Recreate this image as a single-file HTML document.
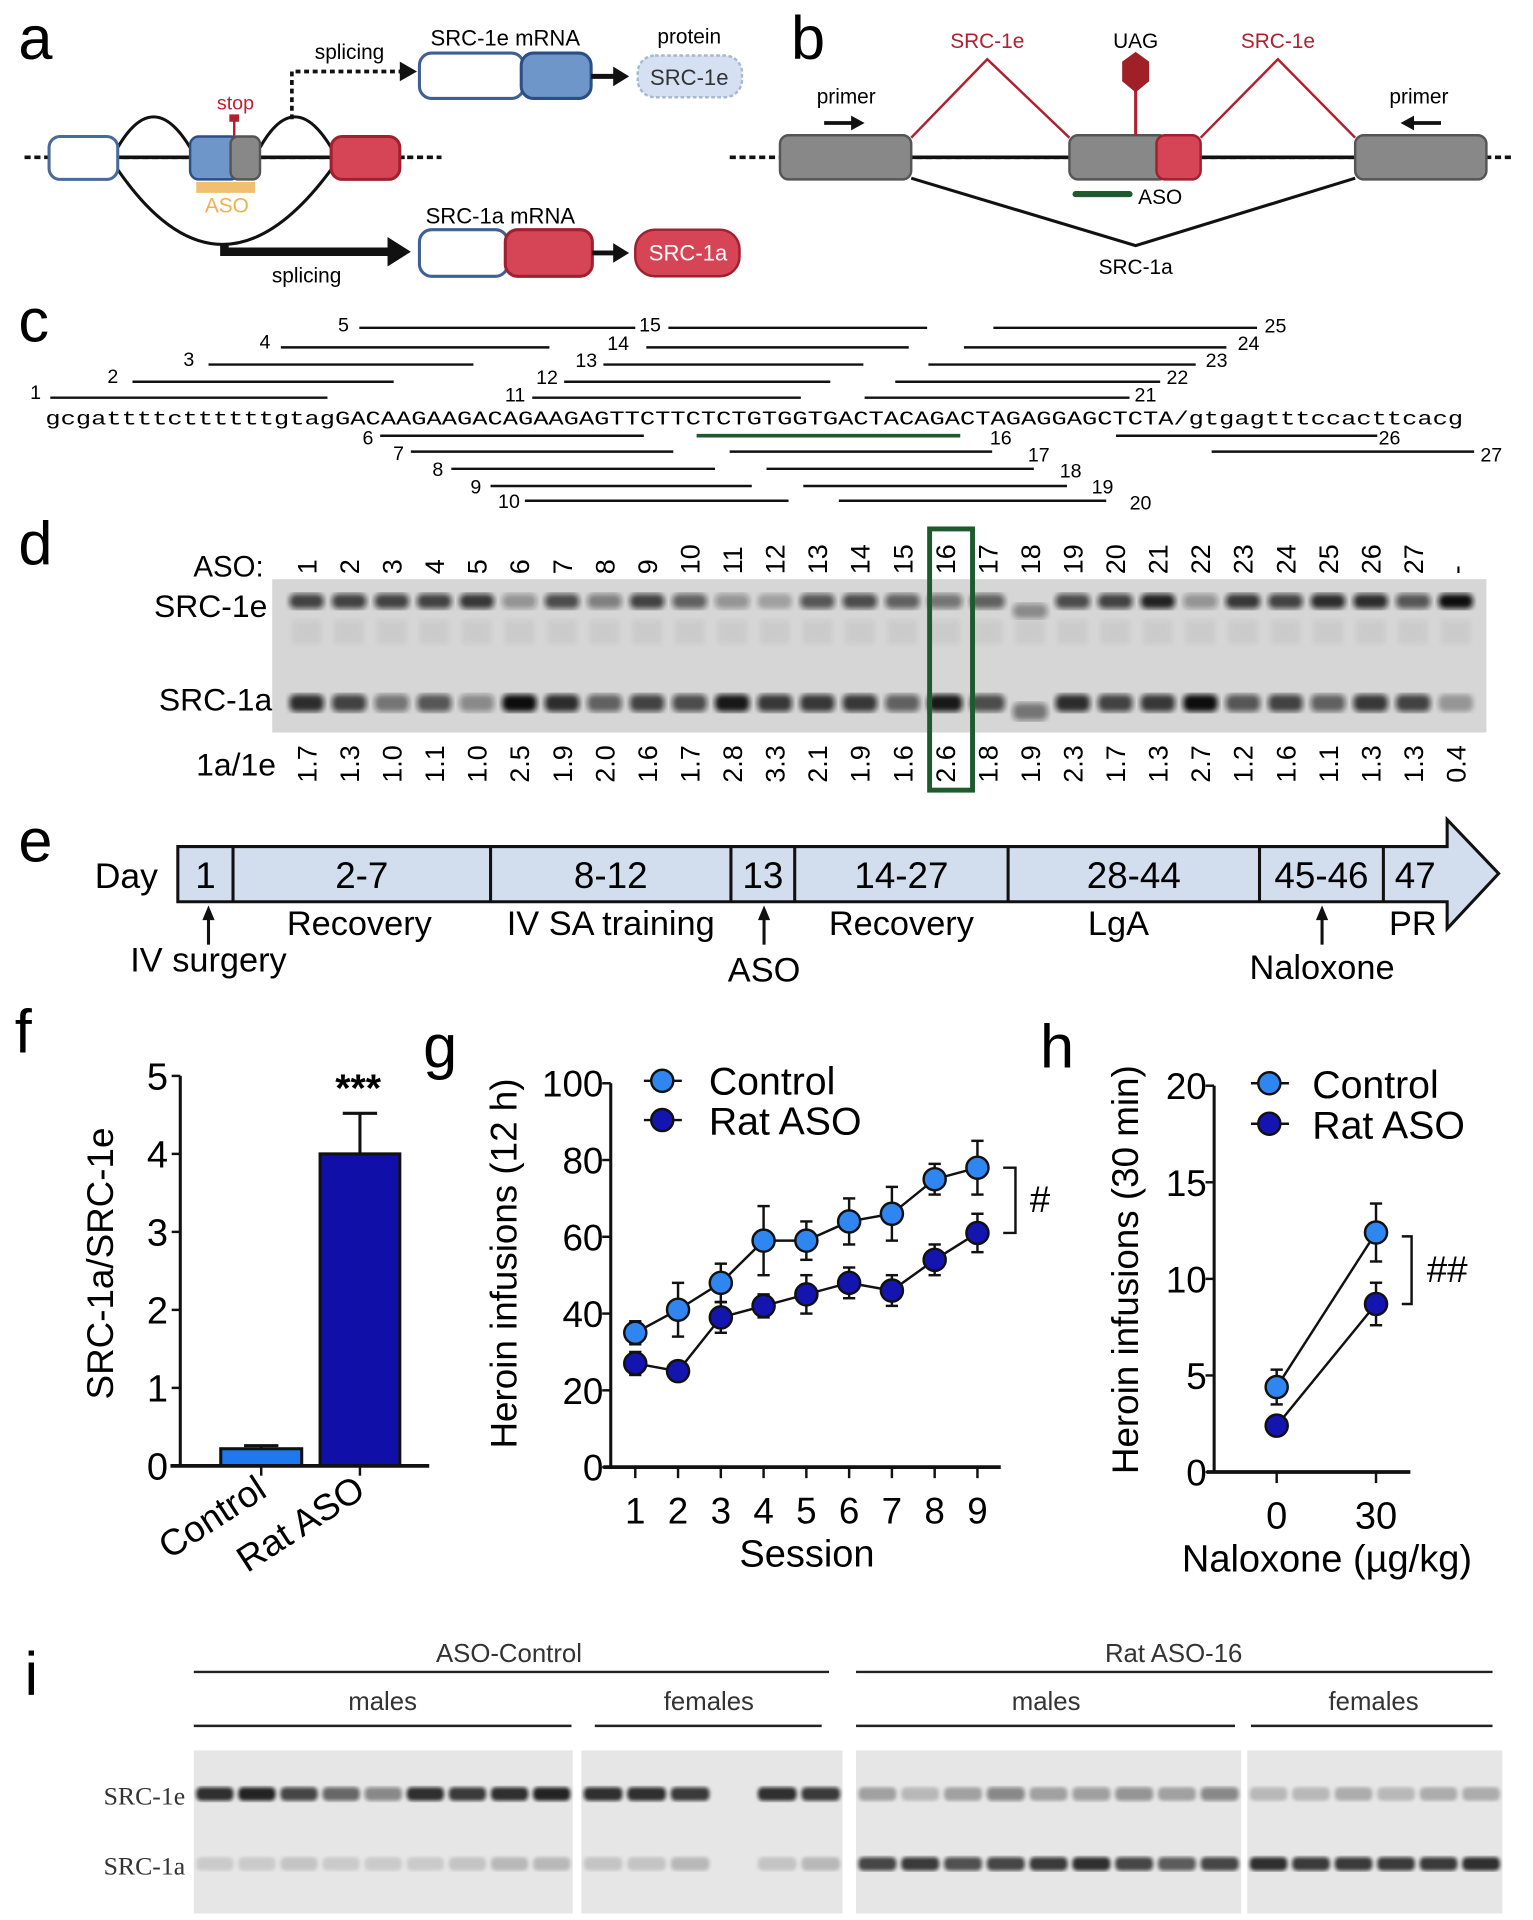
<!DOCTYPE html>
<html><head><meta charset="utf-8">
<style>
html,body{margin:0;padding:0;background:#fff;}
svg{display:block;font-family:"Liberation Sans",sans-serif;}
</style></head>
<body>
<svg id="fig" width="1533" height="1920" viewBox="0 0 1250 1565" xmlns="http://www.w3.org/2000/svg">
<defs>
<filter id="blur2"><feGaussianBlur stdDeviation="2.2"/></filter>
<filter id="blur1"><feGaussianBlur stdDeviation="1.5"/></filter>
</defs>
<rect width="1250" height="1565" fill="#fff"/>

<!-- Panel a -->
<g>
<text x="15" y="48" font-size="50">a</text>
<line x1="20" y1="128" x2="360" y2="128" stroke="#111" stroke-width="3" stroke-dasharray="5 3"/>
<line x1="40" y1="128" x2="330" y2="128" stroke="#111" stroke-width="3"/>
<path d="M96 120 Q125 70 155 120" fill="none" stroke="#111" stroke-width="2.5"/>
<path d="M212 120 Q240 70 270 120" fill="none" stroke="#111" stroke-width="2.5"/>
<path d="M96 138 Q180 260 270 138" fill="none" stroke="#111" stroke-width="2.5"/>
<rect x="40" y="111" width="56" height="35" rx="9" fill="#fff" stroke="#4a6a9a" stroke-width="2.5"/>
<rect x="155" y="111" width="40" height="35" rx="7" fill="#6f96c8" stroke="#2c4e86" stroke-width="2"/>
<rect x="188" y="111" width="24" height="35" rx="6" fill="#888" stroke="#555" stroke-width="2"/>
<rect x="270" y="111" width="56" height="35" rx="9" fill="#d64555" stroke="#a02030" stroke-width="2.5"/>
<line x1="191" y1="96" x2="191" y2="111" stroke="#b02030" stroke-width="2"/>
<rect x="187" y="93" width="8" height="6" fill="#b02030"/>
<text x="192" y="89" font-size="16" fill="#c02030" text-anchor="middle">stop</text>
<rect x="160" y="148" width="48" height="9" fill="#f0c070"/>
<text x="185" y="173" font-size="17" fill="#f0b050" text-anchor="middle">ASO</text>
<path d="M238 97 L238 58 L328 58" fill="none" stroke="#111" stroke-width="3" stroke-dasharray="4 3"/>
<path d="M326 50 L340 58 L326 66 Z" fill="#111"/>
<text x="285" y="48" font-size="17" text-anchor="middle">splicing</text>
<text x="412" y="37" font-size="18" text-anchor="middle">SRC-1e mRNA</text>
<rect x="342" y="43" width="85" height="37" rx="10" fill="#fff" stroke="#3f5f95" stroke-width="2.5"/>
<rect x="425" y="43" width="57" height="37" rx="10" fill="#6f96c8" stroke="#2c4e86" stroke-width="2.5"/>
<line x1="482" y1="62" x2="502" y2="62" stroke="#111" stroke-width="4"/>
<path d="M500 54 L513 62 L500 70 Z" fill="#111"/>
<text x="562" y="35" font-size="17" text-anchor="middle">protein</text>
<rect x="520" y="45" width="85" height="34" rx="14" fill="#d5e1f2" stroke="#a8b8d0" stroke-width="2" stroke-dasharray="3 2"/>
<text x="562" y="69" font-size="18" text-anchor="middle" fill="#333">SRC-1e</text>
<path d="M183 198 L183 205 L318 205" fill="none" stroke="#111" stroke-width="7"/>
<path d="M316 193 L335 205 L316 217 Z" fill="#111"/>
<text x="250" y="230" font-size="17" text-anchor="middle">splicing</text>
<text x="408" y="182" font-size="18" text-anchor="middle">SRC-1a mRNA</text>
<rect x="342" y="187" width="72" height="38" rx="10" fill="#fff" stroke="#3f5f95" stroke-width="2.5"/>
<rect x="412" y="187" width="71" height="38" rx="10" fill="#d64555" stroke="#a02030" stroke-width="2.5"/>
<line x1="483" y1="206" x2="502" y2="206" stroke="#111" stroke-width="4"/>
<path d="M500 198 L513 206 L500 214 Z" fill="#111"/>
<rect x="518" y="187" width="85" height="38" rx="16" fill="#d64555" stroke="#a02030" stroke-width="2"/>
<text x="561" y="212" font-size="18" text-anchor="middle" fill="#fff">SRC-1a</text>
</g>

<!-- Panel b -->
<g>
<text x="645" y="48" font-size="50">b</text>
<line x1="595" y1="128" x2="1235" y2="128" stroke="#111" stroke-width="3" stroke-dasharray="5 3"/>
<line x1="636" y1="128" x2="1212" y2="128" stroke="#111" stroke-width="3"/>
<polyline points="743,112 805,48 872,112" fill="none" stroke="#b02030" stroke-width="2"/>
<polyline points="979,112 1042,48 1105,112" fill="none" stroke="#b02030" stroke-width="2"/>
<polyline points="743,145 926,200 1105,145" fill="none" stroke="#111" stroke-width="2.5"/>
<rect x="636" y="110" width="107" height="36" rx="7" fill="#888" stroke="#555" stroke-width="2"/>
<rect x="872" y="110" width="80" height="36" rx="7" fill="#888" stroke="#555" stroke-width="2"/>
<rect x="943" y="110" width="36" height="36" rx="7" fill="#d64555" stroke="#a02030" stroke-width="2"/>
<rect x="1105" y="110" width="107" height="36" rx="7" fill="#888" stroke="#555" stroke-width="2"/>
<line x1="926" y1="72" x2="926" y2="110" stroke="#b02030" stroke-width="2.5"/>
<polygon points="926,42 937,50 937,66 926,75 915,66 915,50" fill="#a02028"/>
<text x="805" y="39" font-size="17" fill="#b02030" text-anchor="middle">SRC-1e</text>
<text x="1042" y="39" font-size="17" fill="#b02030" text-anchor="middle">SRC-1e</text>
<text x="926" y="39" font-size="17" text-anchor="middle">UAG</text>
<text x="690" y="84" font-size="17" text-anchor="middle">primer</text>
<text x="1157" y="84" font-size="17" text-anchor="middle">primer</text>
<line x1="672" y1="100" x2="697" y2="100" stroke="#111" stroke-width="3"/>
<path d="M694 94 L705 100 L694 106 Z" fill="#111"/>
<line x1="1150" y1="100" x2="1175" y2="100" stroke="#111" stroke-width="3"/>
<path d="M1153 94 L1142 100 L1153 106 Z" fill="#111"/>
<line x1="877" y1="158" x2="921" y2="158" stroke="#1d5a2e" stroke-width="5" stroke-linecap="round"/>
<text x="946" y="166" font-size="17" text-anchor="middle">ASO</text>
<text x="926" y="223" font-size="17" text-anchor="middle">SRC-1a</text>
</g>

<!-- Panel c -->
<g id="panelC">
<text x="15" y="278" font-size="50">c</text>
<text x="37" y="346" font-size="16" font-family="Liberation Mono, monospace" textLength="1156" lengthAdjust="spacingAndGlyphs">gcgattttcttttttgtagGACAAGAAGACAGAAGAGTTCTTCTCTGTGGTGACTACAGACTAGAGGAGCTCTA/gtgagtttccacttcacg</text>
</g>

<!-- Panel d -->
<g id="panelD">
<text x="15" y="460" font-size="50">d</text>
<text x="215" y="470" font-size="24" text-anchor="end">ASO:</text>
<text x="218" y="503" font-size="26" text-anchor="end">SRC-1e</text>
<text x="222" y="579" font-size="26" text-anchor="end">SRC-1a</text>
<text x="225" y="632" font-size="26" text-anchor="end">1a/1e</text>
<rect x="222" y="472" width="990" height="125" fill="#d6d6d6"/>
<g id="gelD"></g>
<rect x="758" y="431" width="35" height="213" fill="none" stroke="#1d5a2e" stroke-width="4"/>
</g>

<!-- Panel e -->
<g id="panelE">
<text x="15" y="702" font-size="50">e</text>
<text x="103" y="724" font-size="29" text-anchor="middle">Day</text>
<path d="M145 690 L1180 690 L1180 668 L1222 712 L1180 757 L1180 735 L145 735 Z" fill="#d2ddee" stroke="#111" stroke-width="2.5"/>
</g>

<g id="panelF">
<text x="12" y="858" font-size="50">f</text>
</g>
<g id="panelG">
<text x="345" y="870" font-size="50">g</text>
</g>
<g id="panelH">
<text x="848" y="870" font-size="50">h</text>
</g>

<!-- Panel i -->
<g id="panelI">
<text x="20" y="1382" font-size="50">i</text>
<text x="415" y="1355" font-size="21" text-anchor="middle" fill="#333">ASO-Control</text>
<line x1="158" y1="1363" x2="676" y2="1363" stroke="#222" stroke-width="2"/>
<text x="957" y="1355" font-size="21" text-anchor="middle" fill="#333">Rat ASO-16</text>
<line x1="698" y1="1363" x2="1217" y2="1363" stroke="#222" stroke-width="2"/>
<text x="312" y="1394" font-size="21" text-anchor="middle" fill="#333">males</text>
<line x1="158" y1="1407" x2="466" y2="1407" stroke="#222" stroke-width="2"/>
<text x="578" y="1394" font-size="21" text-anchor="middle" fill="#333">females</text>
<line x1="485" y1="1407" x2="670" y2="1407" stroke="#222" stroke-width="2"/>
<text x="853" y="1394" font-size="21" text-anchor="middle" fill="#333">males</text>
<line x1="698" y1="1407" x2="1007" y2="1407" stroke="#222" stroke-width="2"/>
<text x="1120" y="1394" font-size="21" text-anchor="middle" fill="#333">females</text>
<line x1="1020" y1="1407" x2="1217" y2="1407" stroke="#222" stroke-width="2"/>
<text x="151" y="1471" font-size="21" text-anchor="end" font-family="Liberation Serif, serif" fill="#333">SRC-1e</text>
<text x="151" y="1528" font-size="21" text-anchor="end" font-family="Liberation Serif, serif" fill="#333">SRC-1a</text>
<g id="gelI"></g>
</g>
</svg>

<script>
// ===== data =====
var cLabelsTop = ["1","2","3","4","5","11","12","13","14","15","21","22","23","24","25"];
var cLabelsBottom = ["6","7","8","9","10","16","17","18","19","20","26","27"];
var dLanes = ["1","2","3","4","5","6","7","8","9","10","11","12","13","14","15","16","17","18","19","20","21","22","23","24","25","26","27","-"];
var dRatios = ["1.7","1.3","1.0","1.1","1.0","2.5","1.9","2.0","1.6","1.7","2.8","3.3","2.1","1.9","1.6","2.6","1.8","1.9","2.3","1.7","1.3","2.7","1.2","1.6","1.1","1.3","1.3","0.4"];
var dBand1e = [0.75,0.75,0.75,0.75,0.8,0.35,0.7,0.45,0.75,0.6,0.35,0.25,0.65,0.7,0.6,0.5,0.6,0.4,0.7,0.75,0.9,0.35,0.8,0.75,0.85,0.85,0.65,1.0];
var dBand1a = [0.85,0.75,0.5,0.65,0.4,1.0,0.85,0.6,0.75,0.7,0.95,0.8,0.8,0.8,0.6,0.95,0.7,0.5,0.85,0.75,0.8,1.0,0.65,0.75,0.6,0.8,0.75,0.3];
var eDays = ["1","2-7","8-12","13","14-27","28-44","45-46","47"];
var eBounds = [145,190,400,596,648,822,1027,1128,1180];
var eEvents = ["Recovery","IV SA training","Recovery","LgA","PR"];
var fCats = ["Control","Rat ASO"];
var fVals = [0.22,4.0];
var fErr = [0.04,0.52];
var fTicks = [0,1,2,3,4,5];
var gSessions = [1,2,3,4,5,6,7,8,9];
var gControl = [35,41,48,59,59,64,66,75,78];
var gControlErr = [3,7,5,9,5,6,7,4,7];
var gASO = [27,25,39,42,45,48,46,54,61];
var gASOErr = [3,1,4,3,5,4,4,4,5];
var gTicks = [0,20,40,60,80,100];
var hDoses = [0,30];
var hControl = [4.4,12.4];
var hControlErr = [0.9,1.5];
var hASO = [2.4,8.7];
var hASOErr = [0.3,1.1];
var hTicks = [0,5,10,15,20];
var iGroups = [[158,467,9],[474,687,6],[698,1012,9],[1017,1225,6]];
var i1e = [[0.85,0.9,0.75,0.6,0.45,0.85,0.8,0.85,0.9],[0.85,0.85,0.8,0.0,0.85,0.8],[0.3,0.2,0.3,0.45,0.3,0.35,0.4,0.3,0.45],[0.2,0.2,0.25,0.2,0.25,0.25]];
var i1a = [[0.12,0.12,0.15,0.12,0.12,0.12,0.15,0.2,0.2],[0.15,0.15,0.2,0.0,0.15,0.2],[0.75,0.8,0.7,0.75,0.8,0.85,0.75,0.65,0.75],[0.85,0.8,0.8,0.8,0.8,0.85]];

var NS="http://www.w3.org/2000/svg";
function mk(tag, attrs, parent, txt){
  var e=document.createElementNS(NS,tag);
  for(var k in attrs) e.setAttribute(k,attrs[k]);
  if(txt!==undefined) e.textContent=txt;
  parent.appendChild(e); return e;
}

// ===== panel c lines =====
(function(){
  var p=document.getElementById('panelC');
  var top=[[41,267,324,29,325],[108,321,311,92,312],[170,386,297,154,298],[229,448,283,216,284],[293,518,267,280,270],
           [434,653,324,420,327],[460,677,311,446,313],[492,704,297,478,299],[527,741,283,504,285],[545,756,267,530,270],
           [705,921,324,934,327],[730,946,311,960,313],[757,975,297,992,299],[786,1000,283,1018,285],[810,1025,267,1040,271]];
  top.forEach(function(r,i){
    var l=mk('line',{x1:r[0],y1:r[2],x2:r[1],y2:r[2],stroke:'#111','stroke-width':2},p);
    
    
    mk('text',{x:r[3],y:r[4],'font-size':16,'text-anchor':'middle'},p,cLabelsTop[i]);
  });
  var bot=[[310,525,355,300,362],[335,549,368,325,375],[368,583,382,357,388],[400,613,396,388,402],[428,643,408,415,414],
           [568,783,355,816,362],[595,809,368,847,376],[625,843,382,873,389],[655,870,396,899,402],[684,902,408,930,415],
           [910,1123,355,1133,362],[988,1202,368,1216,376]];
  bot.forEach(function(r,i){
    var col = cLabelsBottom[i]==="16" ? '#1d5a2e' : '#111';
    var l=mk('line',{x1:r[0],y1:r[2],x2:r[1],y2:r[2],stroke:col,'stroke-width':cLabelsBottom[i]==="16"?3:2},p);
    
    
    mk('text',{x:r[3],y:r[4],'font-size':16,'text-anchor':'middle'},p,cLabelsBottom[i]);
  });
})();

// ===== panel d gel =====
(function(){
  var p=document.getElementById('panelD'), g=document.getElementById('gelD');
  var x0=250, dx=(1187-250)/27;
  dLanes.forEach(function(l,i){
    var x=x0+i*dx;
    var t=mk('text',{x:0,y:0,'font-size':22,transform:'translate('+(x+8)+',468) rotate(-90)'},p,l);
    
    
    var r=mk('text',{x:0,y:0,'font-size':22,transform:'translate('+(x+8)+',638) rotate(-90)'},p,dRatios[i]);
    
    
    var y1e = l==="18" ? 498 : 490, y1a = l==="18" ? 580 : 573;
    var b1=mk('rect',{x:x-14,y:y1e-6,width:28,height:12,rx:5,fill:'#111','fill-opacity':dBand1e[i],filter:'url(#blur2)'},g);
    
    
    var b2=mk('rect',{x:x-14,y:y1a-7,width:28,height:14,rx:5,fill:'#111','fill-opacity':dBand1a[i],filter:'url(#blur2)'},g);
    
    
    mk('rect',{x:x-12,y:505,width:24,height:20,fill:'#aaa','fill-opacity':0.25,filter:'url(#blur2)'},g);
  });
})();

// ===== panel e =====
(function(){
  var p=document.getElementById('panelE');
  for(var i=1;i<eBounds.length-1;i++) mk('line',{x1:eBounds[i],y1:690,x2:eBounds[i],y2:735,stroke:'#111','stroke-width':2.5},p);
  eDays.forEach(function(d,i){
    var cx=(eBounds[i]+eBounds[i+1])/2;
    var t=mk('text',{x:cx,y:724,'font-size':30,'text-anchor':'middle'},p,d);
    
    
  });
  var ev=[[293,762],[498,762],[735,762],[912,762],[1152,762]];
  eEvents.forEach(function(s,i){ mk('text',{x:ev[i][0],y:ev[i][1],'font-size':28,'text-anchor':'middle'},p,s); });
  [[170,"IV surgery",792],[623,"ASO",800],[1078,"Naloxone",798]].forEach(function(a){
    mk('line',{x1:a[0],y1:748,x2:a[0],y2:770,stroke:'#111','stroke-width':2.5},p);
    mk('path',{d:'M'+(a[0]-5)+' 750 L'+a[0]+' 738 L'+(a[0]+5)+' 750 Z',fill:'#111'},p);
    mk('text',{x:a[0],y:a[2],'font-size':28,'text-anchor':'middle'},p,a[1]);
  });
})();

// ===== panel f =====
(function(){
  var p=document.getElementById('panelF');
  var y0=1195, y5=877, ax=147;
  function Y(v){return y0-(y0-y5)*v/5;}
  var bx=[[180,246],[261,326]], cols=['#1e78f0','#1010a8'];
  fVals.forEach(function(v,i){
    var b=mk('rect',{x:bx[i][0],y:Y(v),width:bx[i][1]-bx[i][0],height:y0-Y(v),fill:cols[i],stroke:'#111','stroke-width':2.5},p);
    
    
    var cx=(bx[i][0]+bx[i][1])/2;
    mk('line',{x1:cx,y1:Y(v),x2:cx,y2:Y(v+fErr[i]),stroke:'#111','stroke-width':2.5},p);
    mk('line',{x1:cx-14,y1:Y(v+fErr[i]),x2:cx+14,y2:Y(v+fErr[i]),stroke:'#111','stroke-width':2.5},p);
    mk('line',{x1:cx,y1:y0,x2:cx,y2:y0+8,stroke:'#111','stroke-width':2},p);
    var t=mk('text',{x:0,y:0,'font-size':30,'text-anchor':'end',transform:'translate('+(cx+6)+','+(y0+24)+') rotate(-33)'},p,fCats[i]);
    
    
  });
  mk('line',{x1:ax,y1:y5,x2:ax,y2:y0,stroke:'#111','stroke-width':2.5},p);
  mk('line',{x1:ax-8,y1:y0,x2:350,y2:y0,stroke:'#111','stroke-width':3},p);
  fTicks.forEach(function(t){
    mk('line',{x1:ax-7,y1:Y(t),x2:ax,y2:Y(t),stroke:'#111','stroke-width':2},p);
    var l=mk('text',{x:ax-10,y:Y(t)+11,'font-size':31,'text-anchor':'end'},p,String(t));
    
    
  });
  mk('text',{x:292,y:898,'font-size':32,'text-anchor':'middle','font-weight':'bold'},p,'***');
  var yt=mk('text',{x:0,y:0,'font-size':30,'text-anchor':'middle',transform:'translate(92,1030) rotate(-90)'},p,'SRC-1a/SRC-1e');
  
  
})();

function marker(p,x,y,fill){
  return mk('circle',{cx:x,cy:y,r:9,fill:fill,stroke:'#111','stroke-width':2},p);
}
function errbar(p,x,yc,yt,yb){
  mk('line',{x1:x,y1:yt,x2:x,y2:yb,stroke:'#111','stroke-width':2},p);
  mk('line',{x1:x-5,y1:yt,x2:x+5,y2:yt,stroke:'#111','stroke-width':2},p);
  mk('line',{x1:x-5,y1:yb,x2:x+5,y2:yb,stroke:'#111','stroke-width':2},p);
}

// ===== panel g =====
(function(){
  var p=document.getElementById('panelG');
  var ax=498, y0=1196, y100=883;
  function Y(v){return y0-(y0-y100)*v/100;}
  function X(s){return 518+(s-1)*(797-518)/8;}
  mk('line',{x1:ax,y1:y100,x2:ax,y2:y0,stroke:'#111','stroke-width':2.5},p);
  mk('line',{x1:ax-6,y1:y0,x2:816,y2:y0,stroke:'#111','stroke-width':3},p);
  gTicks.forEach(function(t){
    mk('line',{x1:ax-7,y1:Y(t),x2:ax,y2:Y(t),stroke:'#111','stroke-width':2},p);
    var l=mk('text',{x:ax-6,y:Y(t)+11,'font-size':30,'text-anchor':'end'},p,String(t));
    
    
  });
  gSessions.forEach(function(s){
    mk('line',{x1:X(s),y1:y0,x2:X(s),y2:y0+9,stroke:'#111','stroke-width':2},p);
    var l=mk('text',{x:X(s),y:1242,'font-size':30,'text-anchor':'middle'},p,String(s));
    
    
  });
  [[gControl,gControlErr,'#2f86f0','control'],[gASO,gASOErr,'#1414b0','rat-aso']].forEach(function(ser){
    var pts=gSessions.map(function(s,i){return X(s)+','+Y(ser[0][i]);}).join(' ');
    var pl=mk('polyline',{points:pts,fill:'none',stroke:'#111','stroke-width':2},p);
    
    
    gSessions.forEach(function(s,i){
      errbar(p,X(s),Y(ser[0][i]),Y(ser[0][i]+ser[1][i]),Y(ser[0][i]-ser[1][i]));
    });
    gSessions.forEach(function(s,i){
      var c=marker(p,X(s),Y(ser[0][i]),ser[2]);
      
      
    });
  });
  var bt=Y(gControl[8]), bb=Y(gASO[8]);
  mk('polyline',{points:'818,'+bt+' 828,'+bt+' 828,'+bb+' 818,'+bb,fill:'none',stroke:'#111','stroke-width':2},p);
  mk('text',{x:848,y:988,'font-size':30,'text-anchor':'middle'},p,'#');
  mk('line',{x1:525,y1:881,x2:556,y2:881,stroke:'#111','stroke-width':2},p);
  marker(p,540,881,'#2f86f0');
  mk('text',{x:578,y:892,'font-size':32},p,'Control');
  mk('line',{x1:525,y1:913,x2:556,y2:913,stroke:'#111','stroke-width':2},p);
  marker(p,540,913,'#1414b0');
  mk('text',{x:578,y:925,'font-size':32},p,'Rat ASO');
  var yt=mk('text',{x:0,y:0,'font-size':30,'text-anchor':'middle',transform:'translate(421,1030) rotate(-90)'},p,'Heroin infusions (12 h)');
  
  
  var xt=mk('text',{x:658,y:1277,'font-size':31,'text-anchor':'middle'},p,'Session');
  
  
})();

// ===== panel h =====
(function(){
  var p=document.getElementById('panelH');
  var ax=990, y0=1200, y20=885;
  function Y(v){return y0-(y0-y20)*v/20;}
  function X(d){return 1041+(d)*(1122-1041)/30;}
  mk('line',{x1:ax,y1:y20,x2:ax,y2:y0,stroke:'#111','stroke-width':2.5},p);
  mk('line',{x1:ax-6,y1:y0,x2:1150,y2:y0,stroke:'#111','stroke-width':3},p);
  hTicks.forEach(function(t){
    mk('line',{x1:ax-7,y1:Y(t),x2:ax,y2:Y(t),stroke:'#111','stroke-width':2},p);
    var l=mk('text',{x:ax-6,y:Y(t)+11,'font-size':30,'text-anchor':'end'},p,String(t));
    
    
  });
  hDoses.forEach(function(d){
    mk('line',{x1:X(d),y1:y0,x2:X(d),y2:y0+9,stroke:'#111','stroke-width':2},p);
    var l=mk('text',{x:X(d),y:1246,'font-size':31,'text-anchor':'middle'},p,String(d));
    
    
  });
  [[hControl,hControlErr,'#2f86f0','control'],[hASO,hASOErr,'#1414b0','rat-aso']].forEach(function(ser){
    var pts=hDoses.map(function(d,i){return X(d)+','+Y(ser[0][i]);}).join(' ');
    var pl=mk('polyline',{points:pts,fill:'none',stroke:'#111','stroke-width':2},p);
    
    
    hDoses.forEach(function(d,i){ errbar(p,X(d),Y(ser[0][i]),Y(ser[0][i]+ser[1][i]),Y(ser[0][i]-ser[1][i])); });
    hDoses.forEach(function(d,i){
      var c=marker(p,X(d),Y(ser[0][i]),ser[2]);
      
      
    });
  });
  var bt=Y(hControl[1]-0.2), bb=Y(hASO[1]);
  mk('polyline',{points:'1143,'+bt+' 1151,'+bt+' 1151,'+bb+' 1143,'+bb,fill:'none',stroke:'#111','stroke-width':2},p);
  mk('text',{x:1180,y:1045,'font-size':30,'text-anchor':'middle'},p,'##');
  mk('line',{x1:1020,y1:883,x2:1051,y2:883,stroke:'#111','stroke-width':2},p);
  marker(p,1035,883,'#2f86f0');
  mk('text',{x:1070,y:895,'font-size':32},p,'Control');
  mk('line',{x1:1020,y1:916,x2:1051,y2:916,stroke:'#111','stroke-width':2},p);
  marker(p,1035,916,'#1414b0');
  mk('text',{x:1070,y:928,'font-size':32},p,'Rat ASO');
  var yt=mk('text',{x:0,y:0,'font-size':30,'text-anchor':'middle',transform:'translate(928,1035) rotate(-90)'},p,'Heroin infusions (30 min)');
  
  
  var xt=mk('text',{x:1082,y:1281,'font-size':31,'text-anchor':'middle'},p,'Naloxone (\u00b5g/kg)');
  
  
})();

// ===== panel i gel =====
(function(){
  var g=document.getElementById('gelI');
  iGroups.forEach(function(gr,gi){
    var r=mk('rect',{x:gr[0],y:1427,width:gr[1]-gr[0],height:133,fill:'#e6e6e6'},g);
    
    
    var n=gr[2], w=(gr[1]-gr[0])/n;
    for(var k=0;k<n;k++){
      var x=gr[0]+k*w+2;
      if(i1e[gi][k]>0){
        var b=mk('rect',{x:x,y:1457,width:w-4,height:11,rx:4,fill:'#111','fill-opacity':i1e[gi][k],filter:'url(#blur1)'},g);
        
        
      }
      if(i1a[gi][k]>0){
        var b2=mk('rect',{x:x,y:1514,width:w-4,height:11,rx:4,fill:'#111','fill-opacity':i1a[gi][k],filter:'url(#blur1)'},g);
        
        
      }
    }
  });
})();
</script>
</body></html>
